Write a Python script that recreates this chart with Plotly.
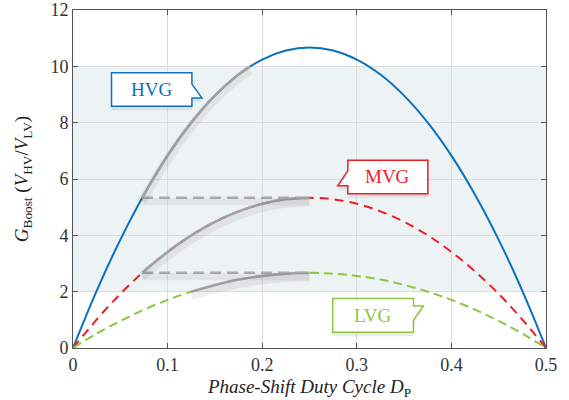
import plotly.graph_objects as go

# ---- data ----
duty = [0.0, 0.025, 0.05, 0.075, 0.1, 0.125, 0.15, 0.175, 0.2, 0.225, 0.25,
        0.275, 0.3, 0.325, 0.35, 0.375, 0.4, 0.425, 0.45, 0.475, 0.5]
g_hvg = [0, 2.03, 3.84, 5.44, 6.83, 8.00, 8.96, 9.71, 10.24, 10.56, 10.67,
         10.56, 10.24, 9.71, 8.96, 8.00, 6.83, 5.44, 3.84, 2.03, 0]
g_mvg = [0, 1.01, 1.92, 2.72, 3.41, 4.00, 4.48, 4.85, 5.12, 5.28, 5.33,
         5.28, 5.12, 4.85, 4.48, 4.00, 3.41, 2.72, 1.92, 1.01, 0]
g_lvg = [0, 0.51, 0.96, 1.36, 1.71, 2.00, 2.24, 2.43, 2.56, 2.64, 2.67,
         2.64, 2.56, 2.43, 2.24, 2.00, 1.71, 1.36, 0.96, 0.51, 0]

# highlighted (gray) operating segments
hv_hi_d = [0.073, 0.1, 0.125, 0.15, 0.175, 0.1875]
hv_hi_g = [5.33, 6.83, 8.00, 8.96, 9.71, 10.0]
mv_hi_d = [0.073, 0.1, 0.125, 0.15, 0.175, 0.2, 0.225, 0.25]
mv_hi_g = [2.67, 3.41, 4.00, 4.48, 4.85, 5.12, 5.28, 5.33]
lv_hi_d = [0.125, 0.15, 0.175, 0.2, 0.225, 0.25]
lv_hi_g = [2.00, 2.24, 2.43, 2.56, 2.64, 2.67]
ref_d = [0.073, 0.25]
ref_levels = [5.33, 2.67]

x_ticks = [0, 0.1, 0.2, 0.3, 0.4, 0.5]
x_tick_labels = ["0", "0.1", "0.2", "0.3", "0.4", "0.5"]
y_ticks = [0, 2, 4, 6, 8, 10, 12]
band = [2, 10]

labels = ["HVG", "MVG", "LVG"]

BLUE = "#0a72ba"
RED = "#ee1c25"
GREEN = "#8cc63f"
GRAY = "#ababab"
FONT = "Liberation Serif"

fig = go.Figure()

# soft shadows (drawn on a slightly shifted overlay axis -> appear a few px lower)
for dd, gg in [(hv_hi_d, hv_hi_g), (mv_hi_d, mv_hi_g), (lv_hi_d, lv_hi_g)]:
    fig.add_trace(go.Scatter(x=dd, y=gg, mode="lines", yaxis="y2",
                             line=dict(color="rgba(0,0,0,0.06)", width=9, shape="spline"),
                             hoverinfo="skip", showlegend=False))
for lvl in ref_levels:
    fig.add_trace(go.Scatter(x=ref_d, y=[lvl, lvl], mode="lines", yaxis="y2",
                             line=dict(color="rgba(0,0,0,0.05)", width=7),
                             hoverinfo="skip", showlegend=False))

# main curves
fig.add_trace(go.Scatter(x=duty, y=g_hvg, mode="lines", name=labels[0],
                         line=dict(color=BLUE, width=2, shape="spline")))
fig.add_trace(go.Scatter(x=duty, y=g_mvg, mode="lines", name=labels[1],
                         line=dict(color=RED, width=2, dash="9px,6px", shape="spline")))
fig.add_trace(go.Scatter(x=duty, y=g_lvg, mode="lines", name=labels[2],
                         line=dict(color=GREEN, width=2, dash="9px,5px", shape="spline")))

# gray highlights
for lvl in ref_levels:
    fig.add_trace(go.Scatter(x=ref_d, y=[lvl, lvl], mode="lines",
                             line=dict(color=GRAY, width=2.5, dash="11px,6px"),
                             hoverinfo="skip", showlegend=False))
for dd, gg in [(hv_hi_d, hv_hi_g), (mv_hi_d, mv_hi_g), (lv_hi_d, lv_hi_g)]:
    fig.add_trace(go.Scatter(x=dd, y=gg, mode="lines",
                             line=dict(color=GRAY, width=2.6, shape="spline"),
                             hoverinfo="skip", showlegend=False))

shapes = [dict(type="rect", xref="x", yref="y", x0=x_ticks[0], x1=x_ticks[-1],
               y0=band[0], y1=band[1], fillcolor="#edf2f5", line=dict(width=0),
               layer="below")]

callouts = [
    # (path, color, text x, text y)
    ("M 0.0407,9.77 L 0.1257,9.77 L 0.1257,9.37 L 0.1363,8.88 L 0.1257,8.88 "
     "L 0.1257,8.58 L 0.0407,8.58 Z", BLUE, 0.0832, 9.17),
    ("M 0.2905,6.67 L 0.3751,6.67 L 0.3751,5.48 L 0.2905,5.48 L 0.2905,5.76 "
     "L 0.2799,5.76 L 0.2905,6.29 Z", RED, 0.3328, 6.08),
    ("M 0.2746,1.756 L 0.3599,1.756 L 0.3599,1.49 L 0.3705,1.49 L 0.3599,0.997 "
     "L 0.3599,0.56 L 0.2746,0.56 Z", GREEN, 0.3172, 1.16),
]
annotations = []
for (path, col, tx, ty), lab in zip(callouts, labels):
    shapes.append(dict(type="path", xref="x", yref="y2", path=path,
                       fillcolor="rgba(0,0,0,0.08)", line=dict(width=0)))
    shapes.append(dict(type="path", xref="x", yref="y", path=path,
                       fillcolor="white", line=dict(color=col, width=1.5)))
    annotations.append(dict(x=tx, y=ty, xref="x", yref="y", text=lab,
                            showarrow=False,
                            font=dict(family=FONT, size=19, color=col)))

axis_common = dict(showline=True, linecolor="#555555", linewidth=1, mirror="ticks",
                   ticks="inside", ticklen=5, tickcolor="#555555",
                   showgrid=True, gridcolor="#dcdcdc", gridwidth=1, zeroline=False,
                   ticklabeloverflow="allow", automargin=False,
                   tickfont=dict(family=FONT, size=18, color="#333333"))

fig.update_layout(
    width=569, height=400,
    margin=dict(l=73, r=23, t=10, b=52, autoexpand=False),
    paper_bgcolor="white", plot_bgcolor="white",
    showlegend=False,
    shapes=shapes, annotations=annotations,
    xaxis=dict(range=[x_ticks[0], x_ticks[-1]], tickvals=x_ticks, ticktext=x_tick_labels,
               title=dict(text="<i>Phase-Shift Duty Cycle D</i><sub>P</sub>",
                          font=dict(family=FONT, size=19, color="#222222"), standoff=6),
               **axis_common),
    yaxis=dict(range=[0, 12], tickvals=y_ticks,
               title=dict(text="<i>G</i><sub>Boost</sub> (<i>V</i><sub>HV</sub>/<i>V</i><sub>LV</sub>)",
                          font=dict(family=FONT, size=19, color="#222222"), standoff=16),
               **axis_common),
    yaxis2=dict(range=[0.14, 12.14], overlaying="y", visible=False),
    font=dict(family=FONT),
)

fig.write_html("out.html")
